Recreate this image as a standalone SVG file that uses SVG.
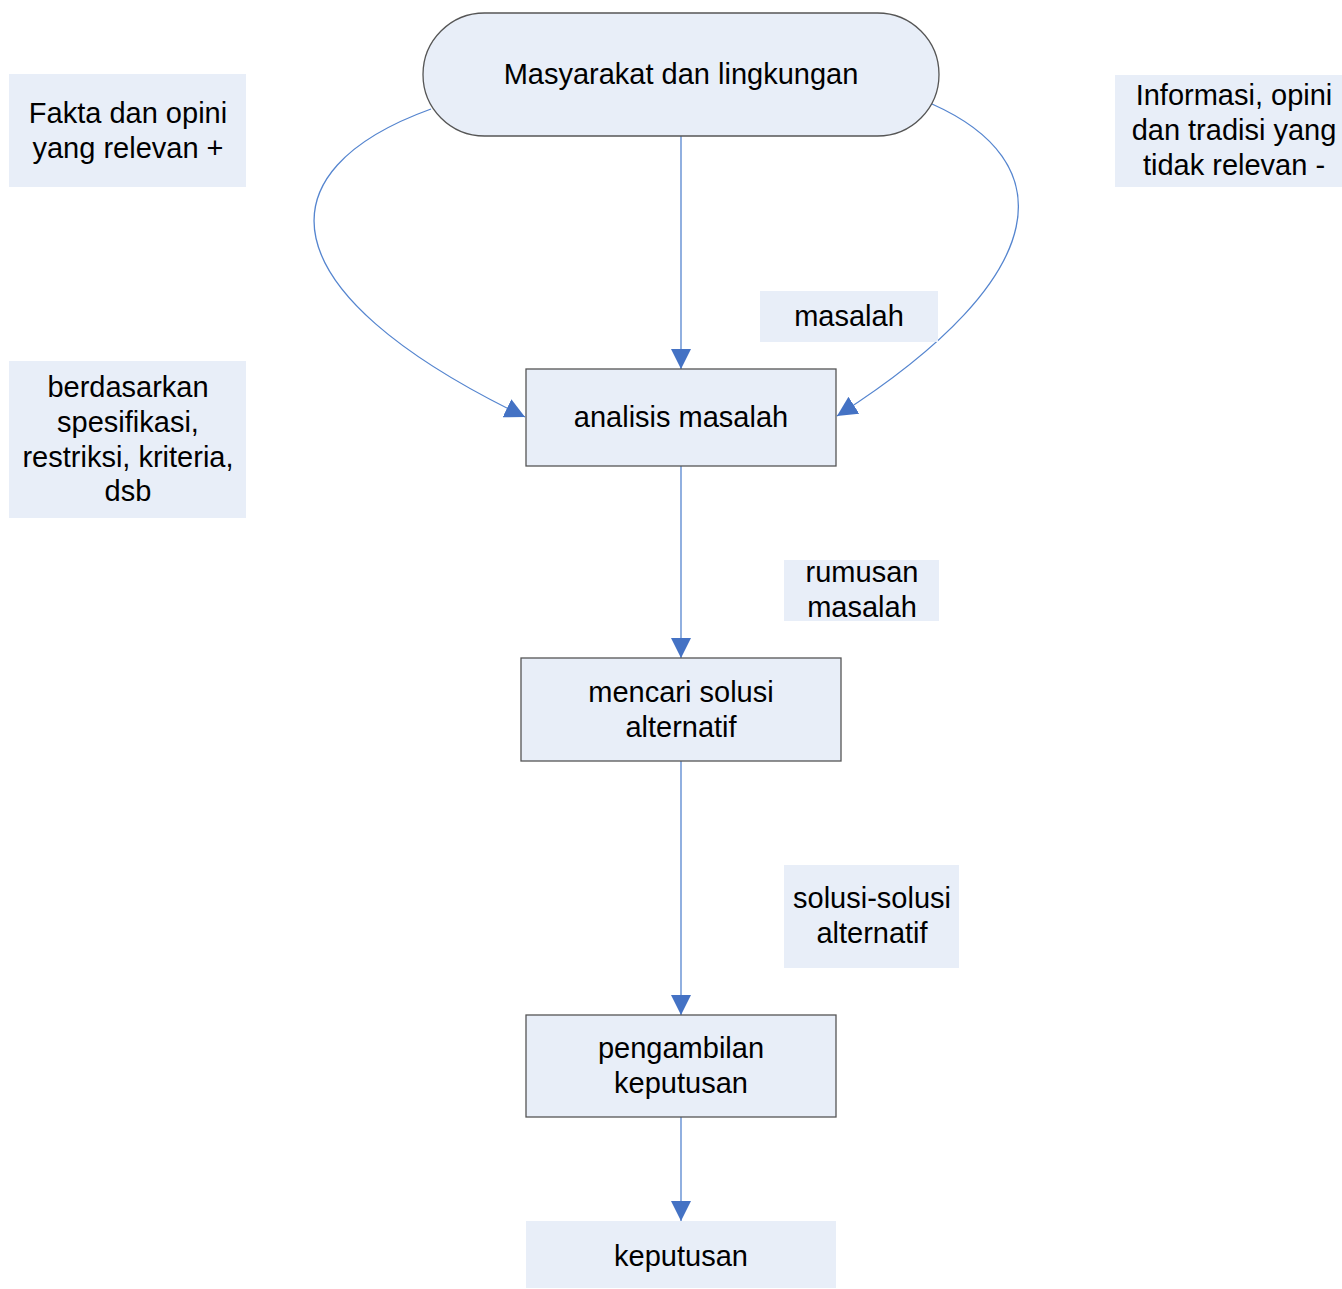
<svg xmlns="http://www.w3.org/2000/svg" width="1342" height="1289" viewBox="0 0 1342 1289">
<defs>
<style>
.box{fill:#E8EEF8;stroke:#555;stroke-width:1.3}
.lbl{fill:#E8EEF8;stroke:none}
.t{font-family:"Liberation Sans",Arial,sans-serif;font-size:29px;fill:#000;text-anchor:middle}
.c{fill:none;stroke:#5585CF;stroke-width:1.3}
</style>
<marker id="ah" markerUnits="userSpaceOnUse" markerWidth="22" markerHeight="20" viewBox="0 0 22 20" refX="20" refY="10" orient="auto">
<path d="M0,0 L20,10 L0,20 Z" fill="#4472C4"/>
</marker>
</defs>
<rect width="1342" height="1289" fill="#fff"/>
<g id="connectors">
<path class="c" d="M431,109 C262,170 262,290 525,417" marker-end="url(#ah)"/>
<path class="c" d="M932,104 C1058,160 1062,272 837,416" marker-end="url(#ah)"/>
<line class="c" x1="681" y1="136" x2="681" y2="369" marker-end="url(#ah)"/>
<line class="c" x1="681" y1="466" x2="681" y2="658" marker-end="url(#ah)"/>
<line class="c" x1="681" y1="761" x2="681" y2="1015" marker-end="url(#ah)"/>
<line class="c" x1="681" y1="1117" x2="681" y2="1221" marker-end="url(#ah)"/>
</g>
<g id="masyarakat">
<rect class="box" x="423" y="13" width="516" height="123" rx="61.5" ry="61.5" stroke="#222"/>
<text class="t" x="681" y="84">Masyarakat dan lingkungan</text>
</g>
<g id="fakta">
<rect class="lbl" x="9" y="74" width="237" height="113"/>
<text class="t" x="128" y="123">Fakta dan opini</text>
<text class="t" x="128" y="158">yang relevan +</text>
</g>
<g id="informasi">
<rect class="lbl" x="1115" y="75" width="227" height="112"/>
<text class="t" x="1234" y="105">Informasi, opini</text>
<text class="t" x="1234" y="140">dan tradisi yang</text>
<text class="t" x="1234" y="175">tidak relevan -</text>
</g>
<g id="berdasarkan">
<rect class="lbl" x="9" y="361" width="237" height="157"/>
<text class="t" x="128" y="397">berdasarkan</text>
<text class="t" x="128" y="432">spesifikasi,</text>
<text class="t" x="128" y="467">restriksi, kriteria,</text>
<text class="t" x="128" y="501">dsb</text>
</g>
<g id="masalah">
<rect class="lbl" x="760" y="291" width="178" height="51"/>
<text class="t" x="849" y="326">masalah</text>
</g>
<g id="analisis">
<rect class="box" x="526" y="369" width="310" height="97"/>
<text class="t" x="681" y="427">analisis masalah</text>
</g>
<g id="rumusan">
<rect class="lbl" x="784" y="560" width="155" height="61"/>
<text class="t" x="862" y="582">rumusan</text>
<text class="t" x="862" y="617">masalah</text>
</g>
<g id="mencari">
<rect class="box" x="521" y="658" width="320" height="103"/>
<text class="t" x="681" y="702">mencari solusi</text>
<text class="t" x="681" y="737">alternatif</text>
</g>
<g id="solusi">
<rect class="lbl" x="784" y="865" width="175" height="103"/>
<text class="t" x="872" y="908">solusi-solusi</text>
<text class="t" x="872" y="943">alternatif</text>
</g>
<g id="pengambilan">
<rect class="box" x="526" y="1015" width="310" height="102"/>
<text class="t" x="681" y="1058">pengambilan</text>
<text class="t" x="681" y="1093">keputusan</text>
</g>
<g id="keputusan">
<rect class="lbl" x="526" y="1221" width="310" height="67"/>
<text class="t" x="681" y="1266">keputusan</text>
</g>
</svg>
